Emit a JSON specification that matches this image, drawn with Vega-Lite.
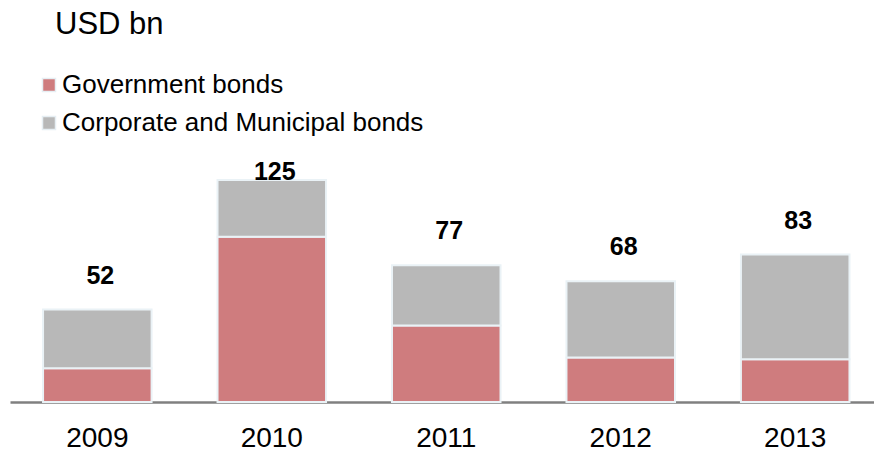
{
  "$schema": "https://vega.github.io/schema/vega-lite/v6.json",
  "width": 864,
  "height": 231,
  "autosize": {"type": "none"},
  "padding": {"left": 10, "top": 171, "right": 0, "bottom": 49},
  "background": "white",
  "title": {
    "text": "USD bn",
    "anchor": "start",
    "frame": "group",
    "dx": 45,
    "offset": 31,
    "font": "Liberation Sans",
    "fontSize": 31,
    "fontWeight": "normal",
    "color": "#000000"
  },
  "config": {
    "view": {"stroke": null},
    "font": "Liberation Sans"
  },
  "datasets": {
    "segments": [
      {"year": "2009", "type": "Government bonds", "value": 19},
      {"year": "2009", "type": "Corporate and Municipal bonds", "value": 33},
      {"year": "2010", "type": "Government bonds", "value": 93},
      {"year": "2010", "type": "Corporate and Municipal bonds", "value": 32},
      {"year": "2011", "type": "Government bonds", "value": 43},
      {"year": "2011", "type": "Corporate and Municipal bonds", "value": 34},
      {"year": "2012", "type": "Government bonds", "value": 25},
      {"year": "2012", "type": "Corporate and Municipal bonds", "value": 43},
      {"year": "2013", "type": "Government bonds", "value": 24},
      {"year": "2013", "type": "Corporate and Municipal bonds", "value": 59}
    ],
    "totals": [
      {"year": "2009", "total": 52},
      {"year": "2010", "total": 125},
      {"year": "2011", "total": 77},
      {"year": "2012", "total": 68},
      {"year": "2013", "total": 83}
    ]
  },
  "encoding": {
    "x": {
      "field": "year",
      "type": "nominal",
      "scale": {"paddingInner": 0.378, "paddingOuter": 0.165, "align": 0.574},
      "axis": {
        "title": null,
        "labelAngle": 0,
        "labelFontSize": 28,
        "labelColor": "#000000",
        "labelFont": "Liberation Sans",
        "labelPadding": 22,
        "ticks": false,
        "domainColor": "#808080",
        "domainWidth": 2.5,
        "grid": false
      }
    }
  },
  "layer": [
    {
      "data": {"name": "segments"},
      "mark": {"type": "bar", "stroke": "#eaf2f6", "strokeWidth": 2},
      "encoding": {
        "y": {
          "field": "value",
          "type": "quantitative",
          "stack": "zero",
          "scale": {"domain": [0, 130], "nice": false},
          "axis": null
        },
        "color": {
          "field": "type",
          "type": "nominal",
          "sort": ["Government bonds", "Corporate and Municipal bonds"],
          "scale": {
            "domain": ["Government bonds", "Corporate and Municipal bonds"],
            "range": ["#cf7c7e", "#b8b8b8"]
          },
          "legend": {
            "title": null,
            "orient": "none",
            "legendX": 26,
            "legendY": -99,
            "direction": "vertical",
            "padding": 0,
            "labelFontSize": 26,
            "labelFont": "Liberation Sans",
            "labelColor": "#000000",
            "labelOffset": 0,
            "labelLimit": 600,
            "rowPadding": 12,
            "symbolType": "square",
            "symbolSize": 169,
            "symbolStrokeColor": "#e6eef3",
            "symbolStrokeWidth": 1.5,
            "symbolOpacity": 1
          }
        },
        "order": {"field": "type", "sort": "descending"}
      }
    },
    {
      "data": {"name": "totals"},
      "transform": [{"filter": "datum.total < 100"}],
      "mark": {"type": "text", "fontSize": 25, "fontWeight": "bold", "font": "Liberation Sans", "color": "#000000", "baseline": "middle", "dy": -34, "dx": 3},
      "encoding": {
        "y": {"field": "total", "type": "quantitative"},
        "text": {"field": "total", "type": "quantitative"}
      }
    },
    {
      "data": {"name": "totals"},
      "transform": [{"filter": "datum.total >= 100"}],
      "mark": {"type": "text", "fontSize": 25, "fontWeight": "bold", "font": "Liberation Sans", "color": "#000000", "baseline": "middle", "dy": -8, "dx": 3},
      "encoding": {
        "y": {"field": "total", "type": "quantitative"},
        "text": {"field": "total", "type": "quantitative"}
      }
    }
  ]
}
